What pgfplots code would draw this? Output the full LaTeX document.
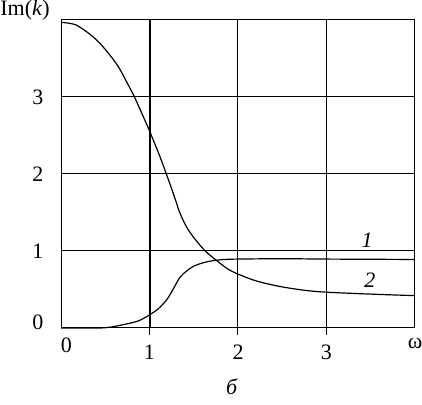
\documentclass[border=0pt]{standalone}
\usepackage{fontspec}
\setmainfont{Liberation Serif}
\usepackage{pgfplots}
\pgfplotsset{compat=1.18}

\begin{document}
\begin{tikzpicture}[font=\fontsize{11}{13}\selectfont]
  \begin{axis}[
    name=ax,
    width=177pt, height=154pt, scale only axis,
    xmin=0, xmax=4, ymin=0, ymax=4,
    axis line style={line width=0.5pt},
    xtick={1,2,3}, xticklabels={1,2,3},
    ytick={1,2,3}, yticklabels={1,2,3},
    grid=major, grid style={black, line width=0.5pt},
    xtick pos=bottom, ytick pos=left,
    tick align=outside,
    x tick style={black, line width=0.5pt}, major tick length=3.5pt,
    y tick style={draw=none},
    extra x ticks={0,4}, extra x tick labels={\hphantom{0}0,ω},
    extra x tick style={grid=none, major tick length=0pt},
    extra y ticks={0}, extra y tick labels={0},
    extra y tick style={grid=none, yticklabel style={yshift=3pt}},
    xticklabel style={yshift=-1.5pt},
    yticklabel style={xshift=-1.8pt},
    /pgf/number format/assume math mode=true,
    clip=false,
  ]
    % curve 1
    \addplot[black, line width=0.6pt, smooth, tension=0.5] coordinates {
      (0,0) (0.42,0.0) (0.55,0.01) (0.69,0.04) (0.87,0.09) (1.0,0.17)
      (1.10,0.25) (1.19,0.36) (1.23,0.43) (1.27,0.51) (1.345,0.66)
      (1.42,0.74) (1.495,0.80) (1.6,0.845) (1.72,0.875) (1.85,0.89)
      (2.0,0.895) (2.5,0.9) (3,0.895) (4,0.89)
    };
    % curve 2
    \addplot[black, line width=0.6pt, smooth, tension=0.5] coordinates {
      (0,3.97) (0.16,3.94) (0.31,3.83) (0.42,3.72) (0.535,3.57) (0.65,3.39)
      (0.74,3.20) (0.83,3.0) (0.92,2.77) (1.0,2.56) (1.12,2.22) (1.19,2.0)
      (1.25,1.81) (1.30,1.64) (1.345,1.49) (1.42,1.31) (1.51,1.16)
      (1.63,1.00) (1.76,0.875) (1.88,0.77) (2.0,0.70) (2.21,0.61)
      (2.47,0.54) (2.75,0.49) (3.0,0.465) (3.5,0.44) (4.0,0.42)
    };
    \draw[line width=1pt] (axis cs:1,0) -- (axis cs:1,4);
    \node at (axis cs:3.46,1.14) {\textit{1}};
    \node at (axis cs:3.49,0.62) {\textit{2}};
    \node at ([yshift=-29.5pt]rel axis cs:0.483,0) {\textit{б}};
  \end{axis}
  \node[anchor=west, inner sep=0pt] at ([xshift=-30.5pt, yshift=4.75pt]ax.north west) {Im(\textit{k})};
  \pgfresetboundingbox
  \path[use as bounding box] ([xshift=-30.5pt, yshift=-38.5pt]ax.south west)
    rectangle ([xshift=3.5pt, yshift=10pt]ax.north east);
\end{tikzpicture}
\end{document}
